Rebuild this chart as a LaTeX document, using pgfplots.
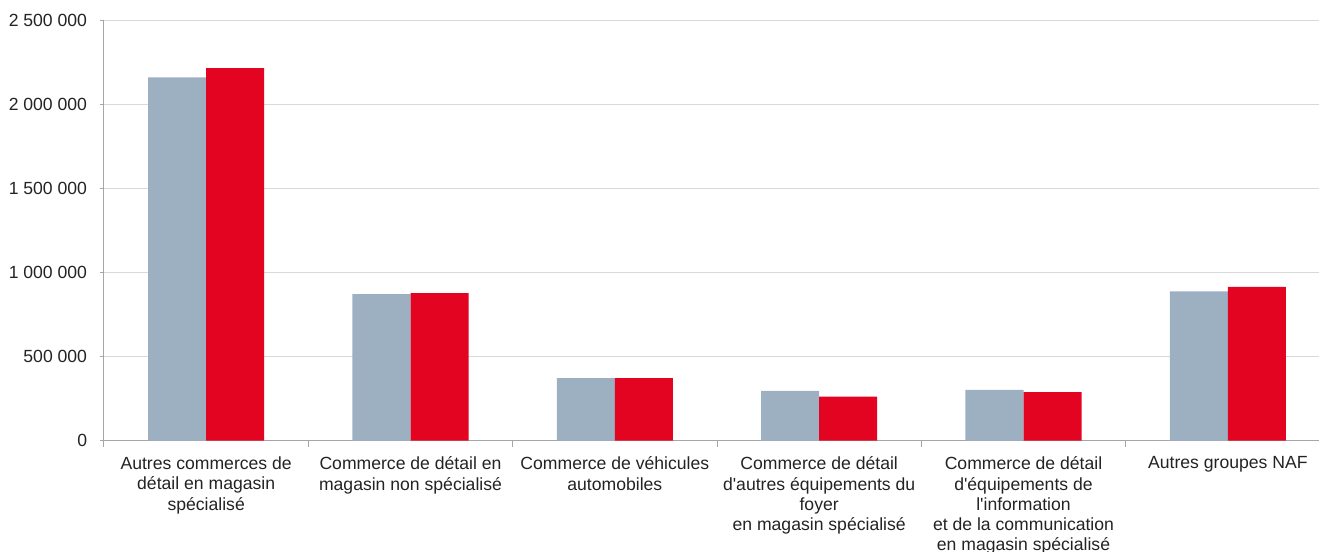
\documentclass[border=0pt]{standalone}
\usepackage{fontspec}
\setmainfont{Liberation Sans}
\usepackage{pgfplots}
\pgfplotsset{compat=1.18}
\definecolor{grisbleu}{RGB}{157,176,193}
\definecolor{rouge}{RGB}{226,4,33}
\definecolor{axe}{RGB}{166,166,166}
\definecolor{grille}{RGB}{217,217,217}
\definecolor{texte}{RGB}{35,35,35}

\begin{document}
\begin{tikzpicture}
\begin{axis}[
  name=ax, at={(0,0)}, anchor=south west,
  scale only axis, width=919.5pt, height=315pt,
  ybar=0pt, bar width=0.284,
  xmin=-0.5, xmax=5.5, ymin=0, ymax=2500000,
  axis lines=left,
  axis line style={-, draw=axe, line width=0.75pt},
  xtick={0,...,5},
  xticklabels={
    {Autres commerces de\\détail en magasin\\spécialisé},
    {Commerce de détail en\\magasin non spécialisé},
    {Commerce de véhicules\\automobiles},
    {Commerce de détail\\d\textquotesingle autres équipements du\\foyer\\en magasin spécialisé},
    {Commerce de détail\\d\textquotesingle équipements de\\l\textquotesingle information\\et de la communication\\en magasin spécialisé},
    {Autres groupes NAF}},
  minor xtick={-0.5,0.5,...,5.5},
  ytick={0,500000,...,2500000},
  ymajorgrids,
  major grid style={draw=grille, line width=1.1pt},
  tick align=outside,
  tick style={draw=axe, line width=0.75pt},
  every major x tick/.append style={draw=none},
  major tick length=3pt, minor tick length=4.5pt,
  scaled y ticks=false,
  /pgf/number format/fixed,
  /pgf/number format/1000 sep={\ },
  /pgf/number format/assume math mode=true,
  ticklabel style={font=\fontsize{13.2}{15.2}\selectfont, text=texte, inner sep=0pt},
  xticklabel style={align=center, yshift=-9pt},
  yticklabel style={xshift=-9.5pt},
]
\addplot[fill=grisbleu, draw=none] coordinates {
  (0,2162000) (1,872000) (2,372000) (3,295000) (4,301000) (5,888000)};
\addplot[fill=rouge, draw=none] coordinates {
  (0,2217000) (1,878000) (2,372000) (3,261000) (4,288000) (5,914000)};
\end{axis}
\pgfresetboundingbox
\useasboundingbox (-78pt,-82.875pt) rectangle (911.25pt,330.375pt);
\end{tikzpicture}
\end{document}
